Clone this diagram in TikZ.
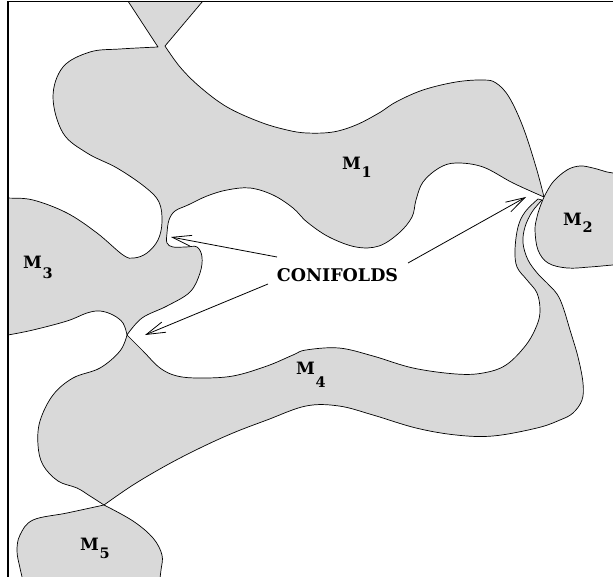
\documentclass[tikz,border=0pt]{standalone}
\usepackage{fontspec}
\setmainfont{DejaVu Serif}
\usetikzlibrary{arrows.meta}
\definecolor{regiongray}{gray}{0.85}
\tikzset{
  region/.style={fill=regiongray, draw=black, line width=0.7pt, line join=round},
  sm/.style={smooth, tension=0.6},
  conarrow/.style={line width=0.8pt, -{Straight Barb[length=19pt,width=11pt]}},
  framel/.style={line width=1.2pt},
  lab/.style={font=\fontsize{17}{20}\selectfont\bfseries, inner sep=0pt, anchor=base west},
}
\newcommand\Mlab[2]{M\kern0.5pt\raisebox{-#2pt}{\fontsize{14.5}{16}\selectfont #1}}
\begin{document}
\begin{tikzpicture}[x=1pt,y=-1pt]
\useasboundingbox (0,0) rectangle (613,577);
\begin{scope}
\clip (8,1.5) rectangle (613,577);
% M1 + M3 + top wedge
\path[region] (165,46)
  -- plot[sm] coordinates {(165,46) (180,67) (200,87) (227,107) (260,122) (287,130) (307,133) (333,132) (356,125) (379,113) (396,102) (423,90) (456,82) (483,80) (496,83) (509,97) (523,127) (536,167) (544,197)}
  -- plot[sm] coordinates {(544,197) (513,183) (483,167) (456,163) (439,168) (423,182) (416,200) (412,217) (399,233) (379,246) (356,247) (329,237) (307,222) (293,208) (273,195) (250,188) (227,190) (207,196) (188,205) (175,211) (169,220) (167,233) (167,243) (173,247) (186,247) (197,247) (202,257) (200,273) (190,292) (167,306) (142,318) (127,335)}
  -- plot[sm] coordinates {(127,335) (123,323) (113,315) (100,311) (87,313) (67,321) (33,330) (8,335) (-5,337)}
  -- (-10,337) -- (-10,197)
  -- plot[sm] coordinates {(-5,197) (8,198) (33,200) (67,213) (97,233) (123,255) (134,258) (147,253) (158,240) (162,222) (159,202) (145,187) (117,168) (87,153) (63,133) (53,97) (63,67) (90,52) (120,49) (158,47)}
  -- (124,-5) -- (208,-5) -- cycle;
% M2
\path[region] (544,197)
  -- plot[sm] coordinates {(544,197) (553,182) (567,170) (580,166) (593,168) (607,172) (613,173) (620,174)}
  -- (625,174) -- (625,265)
  -- plot[sm] coordinates {(620,265) (613,265) (590,267) (567,268) (548,263) (538,250) (535,230) (537,217) (540,207) (544,197)}
  -- cycle;
% M4 with its arm
\path[region] (127,335)
  -- plot[sm] coordinates {(127,335) (143,351) (160,368) (177,376) (200,378) (233,376) (267,366) (293,355) (306,350) (339,348) (373,356) (413,368) (456,374) (483,373) (506,365) (526,345) (537,325) (540,310) (537,293) (527,280) (517,267) (515,250) (518,227) (525,212) (538,199)}
  -- (542,200)
  -- plot[sm] coordinates {(542,200) (532,212) (525,227) (523,243) (528,260) (538,274) (547,283) (557,294) (563,307) (570,330) (578,357) (583,383) (582,400) (573,413) (560,420) (537,428) (493,436) (456,435) (416,428) (373,415) (339,406) (306,406) (267,420) (233,433) (200,448) (167,465) (133,485) (104,505)}
  -- plot[sm] coordinates {(104,505) (90,496) (77,488) (58,481) (43,465) (38,445) (40,421) (53,395) (73,378) (100,368) (120,351) (127,335)}
  -- cycle;
% M5
\path[region] (104,505)
  -- plot[sm] coordinates {(104,505) (133,521) (153,538) (162,555) (161,570) (159,585)}
  -- (159,590) -- (24,590)
  -- plot[sm] coordinates {(24,585) (20,568) (17,551) (20,535) (33,520) (67,513) (104,505)}
  -- cycle;
\end{scope}
% frame
\draw[framel] (8,577) -- (8,1.5) -- (613,1.5);
% labels
\node[lab] (m1) at (342,170) {\Mlab{1}{8}};
\node[lab] (m2) at (563,226) {\Mlab{2}{7}};
\node[lab] (m3) at (23,269) {\Mlab{3}{10}};
\node[lab] (m4) at (296,374) {\Mlab{4}{13}};
\node[lab] (m5) at (80,550) {\Mlab{5}{8}};
\node[font=\fontsize{17.5}{20}\selectfont\bfseries, inner sep=0pt] (conif) at (337.5,275) {CONIFOLDS};
% arrows
\coordinate (s1) at (277,257);
\coordinate (s2) at (268,284);
\coordinate (s3) at (408,263);
\coordinate (t1) at (171,237);
\coordinate (t2) at (145,335);
\coordinate (t3) at (526,197);
\draw[conarrow] (s1) -- (t1);
\draw[conarrow] (s2) -- (t2);
\draw[conarrow] (s3) -- (t3);
\end{tikzpicture}
\end{document}
